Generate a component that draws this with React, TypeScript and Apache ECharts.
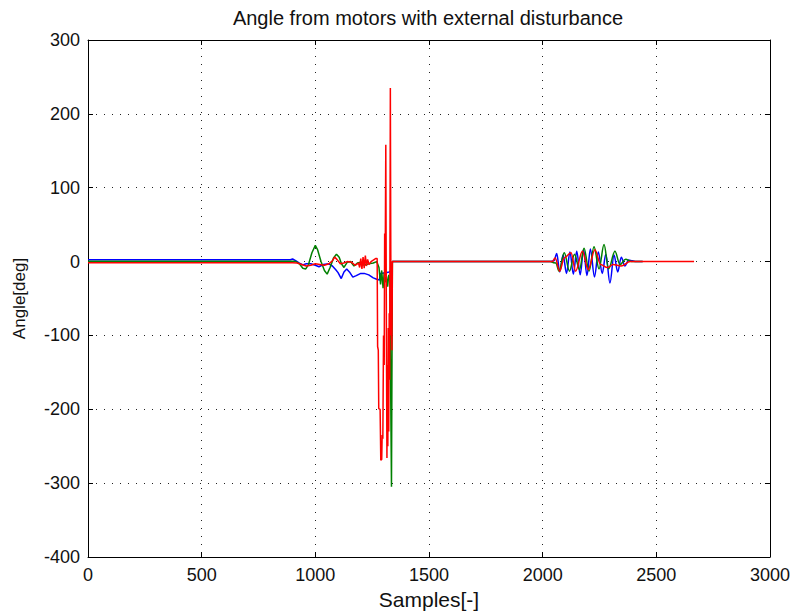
import React, { useEffect, useRef } from "react";
import * as echarts from "echarts";

const TITLE = "Angle from motors with external disturbance";
const X_NAME = "Samples[-]";
const Y_NAME = "Angle[deg]";

// Blue motor
const blueX = [0, 890, 900, 915, 930, 945, 960, 980, 1000, 1016, 1035, 1060, 1075, 1090, 1100, 1114, 1126, 1138, 1150, 1165, 1180, 1200, 1215, 1235, 1255, 1270, 1282, 1286, 1310, 1325, 1336, 1339,
  2035, 2050, 2062, 2075, 2090, 2105, 2120, 2135, 2150, 2165, 2180, 2195, 2210, 2228, 2245, 2262, 2278, 2296, 2314, 2330, 2346, 2362, 2378, 2395, 2410, 2440];
const blueY = [2.5, 2.5, 3.5, 1, -2, -4.5, -3, -3, -5, -7, -4, -3, -6, -11, -15, -23, -14, -10, -14, -21, -19, -16, -16, -18, -22, -24, -25, -16, -15, -14, -12, 0,
  0, 1, 11, -14, 9, -16, 13, -17, 14, -18, 16, -19, 17, -21, 13, -16, 10, -29, 9, -14, 6, -6, 2, 1, 0, 0];

// Green motor
const greenX = [0, 900, 915, 930, 945, 958, 970, 985, 1000, 1010, 1025, 1040, 1052, 1065, 1080, 1093, 1105, 1115, 1126, 1140, 1155, 1170, 1185, 1200, 1215, 1235, 1255, 1270, 1280, 1287, 1292, 1298, 1303, 1308, 1313, 1318, 1323, 1328, 1333, 1335, 1337, 1339,
  2035, 2058, 2072, 2095, 2118, 2140, 2162, 2182, 2204, 2226, 2248, 2270, 2290, 2318, 2340, 2365, 2390, 2440];
const greenY = [0.5, 0.5, 0, -3, -9, -10, -4, 12, 22, 16, 0, -12, -17, -8, 5, 10, 6, -3, -8, -1, 0, -6, -2, -1, -5, -3, -2, 0, -8, -31, -12, -36, -15, -28, -20, -34, -18, -25, -230, -305, -150, 0,
  0, -2, -13, 12, -13, 10, -11, 18, -13, 20, -10, 23, -10, 14, -4, 3, 0, 0];

// Red motor
const redX = [0, 900, 920, 940, 960, 980, 1000, 1020, 1040, 1060, 1075, 1085, 1095, 1110, 1125, 1140, 1160, 1175, 1190, 1195, 1200, 1205, 1210, 1215, 1220, 1225, 1230, 1236, 1245, 1255, 1265, 1272,
  1274, 1277, 1279, 1285, 1288, 1292, 1294, 1297, 1300, 1303, 1305, 1307, 1310, 1313, 1315, 1317, 1319, 1321, 1323, 1325, 1327, 1330, 1333, 1335, 1337, 1339,
  2045, 2055, 2075, 2095, 2125, 2145, 2175, 2200, 2230, 2255, 2285, 2310, 2345, 2385, 2666];
const redY = [-1.5, -1.5, -2, -4, -6, -5, -3, -4, -5, -3, 1, 6, 3, -3, -2, 0, -1, -5, -2, -8, 4, -10, 6, -9, 8, -6, 3, -4, 0, 2, 4, 4,
  -115, -120, -199, -200, -269, -268, -235, -240, -100, -140, 38, -20, 158, -120, -266, -140, -250, -90, -230, -70, -160, 235, -100, -70, -120, 0,
  0, 5, -13, 5, 12, -13, 14, -11, 16, -4, -8, -4, -6, 0, 0];

const xTicks = { min: 0, max: 3000, interval: 500 };
const yTicks = { min: -400, max: 300, interval: 100 };

// sample index where the second disturbance section starts (drawn smoothed)
const SPLIT_AT = 2000;

const pairs = (xs: number[], ys: number[]) => xs.map((x, i) => [x, ys[i]]);

const FONT = "Liberation Sans, Arial, sans-serif";

export default function App() {
  const ref = useRef<HTMLDivElement>(null);
  useEffect(() => {
    if (!ref.current) return;
    const chart = echarts.init(ref.current, null, { renderer: "svg" });
    const tickStyle = { show: true, inside: true, length: 5, lineStyle: { color: "#000", width: 1 } };
    const lineStyleAxis = { show: true, onZero: false, lineStyle: { color: "#000", width: 1 } };
    const grid = { type: [1, 7] as any, color: "#222", width: 1 };
    const mk = (xs: number[], ys: number[], color: string) => {
      const all = pairs(xs, ys);
      const first = all.filter((p) => p[0] <= 2100 && p[0] < SPLIT_AT + 100 && (p[0] < SPLIT_AT || p === all.find((q) => q[0] >= SPLIT_AT)));
      const second = all.filter((p) => p[0] >= SPLIT_AT);
      return [
        { type: "line", data: first, showSymbol: false, lineStyle: { color, width: 1.5 }, itemStyle: { color } },
        { type: "line", data: second, showSymbol: false, smooth: 0.35, smoothMonotone: "x", lineStyle: { color, width: 1.5 }, itemStyle: { color } },
      ];
    };
    chart.setOption({
      animation: false,
      backgroundColor: "#fff",
      grid: { left: 88, right: 23, top: 40, bottom: 58, containLabel: false },
      graphic: [
        {
          type: "text",
          x: 428,
          y: 18,
          style: { text: TITLE, align: "center", verticalAlign: "middle", fontSize: 20, fontFamily: FONT, fill: "#111" },
        },
      ],
      xAxis: [
        {
          type: "value",
          ...xTicks,
          position: "bottom",
          name: X_NAME,
          nameLocation: "middle",
          nameGap: 30,
          nameTextStyle: { fontSize: 21, fontFamily: FONT, color: "#111" },
          axisLine: lineStyleAxis,
          axisTick: tickStyle,
          axisLabel: { fontSize: 18, fontFamily: FONT, color: "#111", margin: 9, formatter: (v: number) => String(v) },
          splitLine: { show: true, lineStyle: grid },
        },
        {
          type: "value",
          ...xTicks,
          position: "top",
          axisLine: lineStyleAxis,
          axisTick: tickStyle,
          axisLabel: { show: false },
          splitLine: { show: false },
        },
      ],
      yAxis: [
        {
          type: "value",
          ...yTicks,
          position: "left",
          name: Y_NAME,
          nameLocation: "middle",
          nameGap: 60,
          nameTextStyle: { fontSize: 17, fontFamily: FONT, color: "#111" },
          axisLine: lineStyleAxis,
          axisTick: tickStyle,
          axisLabel: { fontSize: 18, fontFamily: FONT, color: "#111", margin: 8, formatter: (v: number) => String(v) },
          splitLine: { show: true, lineStyle: grid },
        },
        {
          type: "value",
          ...yTicks,
          position: "right",
          axisLine: lineStyleAxis,
          axisTick: tickStyle,
          axisLabel: { show: false },
          splitLine: { show: false },
        },
      ],
      series: [
        ...mk(blueX, blueY, "#0000ff"),
        ...mk(greenX, greenY, "#008000"),
        ...mk(redX, redY, "#ff0000"),
      ],
    });
    return () => chart.dispose();
  }, []);
  return <div ref={ref} style={{ width: 793, height: 615, position: "absolute", left: 0, top: 0 }} />;
}
